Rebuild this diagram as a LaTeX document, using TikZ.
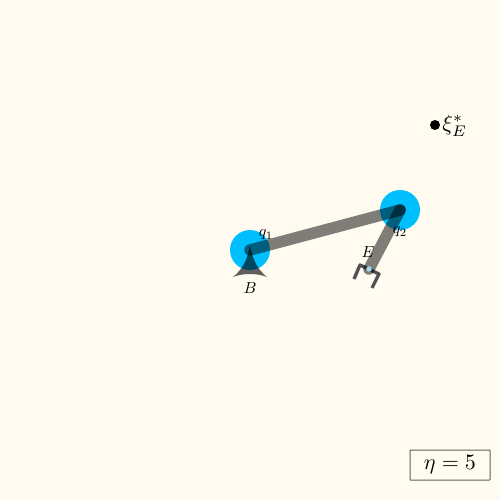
\documentclass[tikz,border=0pt]{standalone}
\definecolor{paper}{HTML}{FFFBF0}
\definecolor{jointblue}{HTML}{00BFFF}
\definecolor{gripgray}{HTML}{505050}
\definecolor{framegray}{HTML}{5F5F5A}
\definecolor{tipblue}{HTML}{A0D8EC}
\tikzset{
  joint/.style={circle,fill=jointblue,draw=none,minimum size=40pt,inner sep=0pt},
  linkbar/.style={line width=11.5pt,line cap=round,black,opacity=0.5},
  gripper/.style={line width=3.3pt,gripgray,line join=round},
  lab/.style={inner sep=0pt,scale=1.6},
  goal/.style={circle,fill=black,minimum size=10pt,inner sep=0pt},
  etatag/.style={draw=framegray,line width=1pt,fill=paper,minimum width=80pt,minimum height=30pt,inner sep=0pt,rounded corners=0.5pt},
  bigtext/.style={inner sep=0pt,scale=2.2}
}
\begin{document}
\begin{tikzpicture}[x=1pt,y=-1pt]
\useasboundingbox (0,0) rectangle (500,500);
\fill[paper] (0,0) rectangle (500,500);
\node[joint] (j1) at (250,250) {};
\node[joint] (j2) at (400,210) {};
\coordinate (ee) at (369,269);
\coordinate (gl) at (360,265);
\coordinate (gr) at (379,274);
\coordinate (fl) at (354,279);
\coordinate (fr) at (372,288);
\fill[black,opacity=0.62] (250,246) .. controls (247,258) and (245,267) .. (233,277)
  .. controls (243,273) and (257,273) .. (267,277)
  .. controls (255,267) and (253,258) .. (250,246) -- cycle;
\draw[gripper] (fl) -- (gl) -- (gr) -- (fr);
\draw[linkbar] (j1.center) -- (j2.center);
\draw[linkbar] (j2.center) -- (ee);
\fill[tipblue] (ee) circle (2.8);
\node[lab] (q1) at (266,235) {$q_1$};
\node[lab] (q2) at (400,232) {$q_2$};
\node[lab] (lE) at (368,252) {$E$};
\node[lab] (lB) at (250,288) {$B$};
\node[goal] (goal) at (435,125) {};
\node[bigtext,anchor=west] (xi) at (442,126) {$\xi_E^*$};
\node[etatag] (etabox) at (450,465) {};
\node[bigtext] (eta) at (etabox) {$\eta=5$};
\end{tikzpicture}
\end{document}
